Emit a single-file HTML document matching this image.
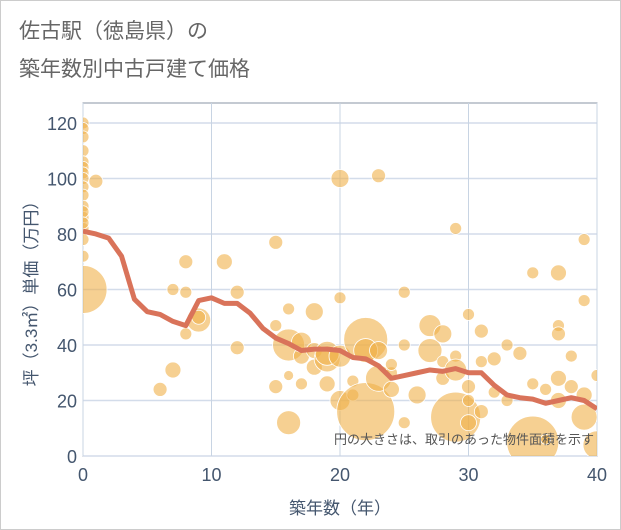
<!DOCTYPE html>
<html><head><meta charset="utf-8"><style>
body{margin:0;background:#fff;font-family:"Liberation Sans","Noto Sans CJK JP",sans-serif}
#wrap{position:relative;width:619px;height:528px;border:1px solid #ccc;background:#fff}
.t{position:absolute;left:18px;color:#666;font-size:21px;font-family:"Liberation Sans","Noto Sans CJK JP",sans-serif}
</style></head><body>
<div id="wrap">
<div class="t" style="top:14px">佐古駅（徳島県）の</div>
<div class="t" style="top:52px">築年数別中古戸建て価格</div>
<svg id="c" width="621" height="530" style="position:absolute;left:-1px;top:-1px"><defs><clipPath id="pc"><rect x="83" y="103" width="514" height="353"/></clipPath></defs></svg>
</div>
<script>
const xTicks=[0,10,20,30,40];
const yTicks=[0,20,40,60,80,100,120];
const trendAges=[0,1,2,3,4,5,6,7,8,9,10,11,12,13,14,15,16,17,18,19,20,21,22,23,24,25,26,27,28,29,30,31,32,33,34,35,36,37,38,39,40];
const trendPrices=[81,80,78.5,72,56.5,52,51,48.5,47,56,57,55,55,51.5,46,42.5,40.5,38,38.5,38.5,38,35.5,35,32.5,28,29,30,31,30.5,31.5,30,30,25.5,22,21,20.5,19,20,21,20,17];
const bubbleAges=[0,0,0,0,0,0,0,0,0,0,0,0,0,0,0,0,1,0,0,6,7,7,8,8,8,9,9,11,12,12,15,15,15,16,16,16,16,17,17,17,18,18,18,19,19,19,20,20,20,20,21,21,22,22,22,23,23,23,24,24,24,25,25,25,26,27,27,28,28,28,29,29,29,29,30,30,30,30,31,31,31,32,32,33,33,34,35,35,35,36,36,37,37,37,37,37,38,38,39,39,39,39,40,40];
const bubblePrices=[120,118,115,110,106,104,102,100,97,94,90,86,82,78,72,60,99,88,84,24,31,60,70,59,44,49,50,70,59,39,77,47,25,53,40,12,29,36,26,41,52,32,38,35,26,37,100,57,20,36,22,27,42,16,38,101,28,38,30,24,33,59,40,12,22,47,38,44,34,28,82,36,31,14,51,25,20,12,45,16,34,23,35,40,20,37,66,26,5,24,6,66,47,44,28,20,36,25,78,56,22,14,29,4];
const bubbleSizes=[6,6,6,6,6,6,6,6,6,6,6,6,6,6,6,24,7,6,6,7,8,6,7,6,6,12,7,8,7,7,7,6,7,6,16,12,5,8,6,10,9,8,8,13,8,12,9,6,10,11,6,6,22,29,12,7,13,9,6,8,6,6,6,6,9,11,12,9,6,7,6,6,11,25,6,7,6,8,7,7,6,6,7,6,6,7,6,6,26,6,5,8,6,7,8,8,6,7,6,6,8,13,6,14];
const L=83,R=597,T=103,B=456;
const xs=v=>L+(R-L)*v/40, ys=v=>B-(B-T)*v/127.2;
const svg=document.getElementById('c'),NS='http://www.w3.org/2000/svg';
function mk(tag,at,txt,par){const e=document.createElementNS(NS,tag);for(const k in at)e.setAttribute(k,at[k]);if(txt!=null)e.textContent=txt;(par||svg).appendChild(e);return e;}
let e=mk('rect',{x:L,y:T,width:R-L,height:B-T,fill:'#fff',stroke:'#8a95a5'});


yTicks.forEach(v=>{
 let g=mk('line',{x1:L,x2:R,y1:ys(v),y2:ys(v),stroke:'#d3dcea','stroke-width':1.5});
 
 
 let t=mk('text',{x:L-6,y:ys(v)+7,'text-anchor':'end','font-size':18,fill:'#44566e'},v);
 
 
});
xTicks.forEach(v=>{
 let g=mk('line',{x1:xs(v),x2:xs(v),y1:T,y2:B,stroke:'#c8d4e3','stroke-width':1});
 
 
 let t=mk('text',{x:xs(v),y:B+25,'text-anchor':'middle','font-size':18,fill:'#44566e'},v);
 
 
});
const grp=mk('g',{'clip-path':'url(#pc)'});


bubbleAges.forEach((a,i)=>{
 let c=mk('circle',{cx:xs(a),cy:ys(bubblePrices[i]),r:bubbleSizes[i],fill:'#f0b04a','fill-opacity':0.6,stroke:'#fff','stroke-width':0.8},null,grp);
 
 
});
let p=mk('polyline',{points:trendAges.map((a,i)=>xs(a)+','+ys(trendPrices[i])).join(' '),fill:'none',stroke:'#d9735a','stroke-width':5,'stroke-linejoin':'round'},null,grp);


let n=mk('text',{x:594,y:444,'text-anchor':'end','font-size':13,fill:'#555'},'円の大きさは、取引のあった物件面積を示す');


let xt=mk('text',{x:(L+R)/2,y:514,'text-anchor':'middle','font-size':17,fill:'#44566e'},'築年数（年）');


let yt=mk('text',{x:0,y:0,'text-anchor':'middle','font-size':17,fill:'#44566e',transform:'translate(37,'+((T+B)/2+10)+') rotate(-90)'},'坪（3.3㎡）単価（万円）');


</script>
</body></html>
